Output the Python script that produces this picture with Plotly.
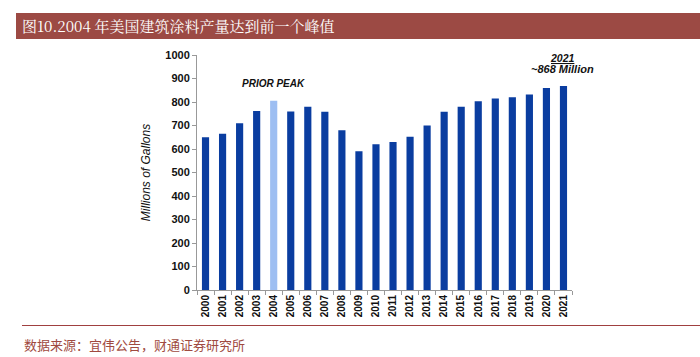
import plotly.graph_objects as go

years = [str(y) for y in range(2000, 2022)]
values = [650, 665, 710, 762, 805, 760, 780, 758, 680, 590, 620, 630, 652, 700,
          758, 780, 803, 815, 820, 832, 860, 868]
highlight_year = "2004"
dark_blue = "#0A3DA0"
light_blue = "#9DBEF2"
colors = [light_blue if y == highlight_year else dark_blue for y in years]

W, H = 700, 357
L, R, T, B = 197, 128, 55, 67
pw, ph = W - L - R, H - T - B

def px(x):
    return (x - L) / pw

def py(y):
    return (H - B - y) / ph

fig = go.Figure(go.Bar(x=years, y=values, marker=dict(color=colors, line=dict(width=0)),
                       width=0.42))

fig.update_layout(
    width=W, height=H, margin=dict(l=L, r=R, t=T, b=B),
    paper_bgcolor="white", plot_bgcolor="white", showlegend=False,
    font=dict(family="Liberation Sans, Arial", color="#111"),
    xaxis=dict(type="category", tickangle=-90,
               tickfont=dict(size=10, family="Liberation Sans, Arial", color="#111", weight="bold"),
               showline=True, linecolor="#999", linewidth=1, ticks="outside", ticklen=4,
               tickcolor="#999", tickson="boundaries", showgrid=False, range=[-0.5, 21.5]),
    yaxis=dict(range=[0, 1000], dtick=100, showline=True, linecolor="#999", linewidth=1,
               ticks="outside", ticklen=4, tickcolor="#999", showgrid=False, zeroline=False,
               tickfont=dict(size=11, color="#111", weight="bold"),
               title=dict(text="<i>Millions of Gallons</i>", font=dict(size=12, color="#111"), standoff=12)),
    shapes=[
        dict(type="rect", xref="paper", yref="paper", x0=px(16), x1=px(700), y0=py(39), y1=py(13),
             fillcolor="#9C4A44", line=dict(width=0), layer="above"),
        dict(type="line", xref="paper", yref="paper", x0=px(22), x1=px(700), y0=py(325.5), y1=py(325.5),
             line=dict(color="#A04040", width=1.2)),
    ],
    annotations=[
        dict(text="图10.2004 年美国建筑涂料产量达到前一个峰值", xref="paper", yref="paper",
             x=px(20), y=py(26), xanchor="left", yanchor="middle", showarrow=False,
             font=dict(size=15, color="white", family="Noto Serif CJK SC, Noto Sans CJK SC")),
        dict(text="数据来源：宜伟公告，财通证券研究所", xref="paper", yref="paper",
             x=px(22), y=py(344), xanchor="left", yanchor="middle", showarrow=False,
             font=dict(size=13, color="#A04A40", family="Noto Sans CJK SC")),
        dict(text="<b><i>PRIOR PEAK</i></b>", xref="paper", yref="paper",
             x=px(273), y=py(84), xanchor="center", yanchor="middle", showarrow=False,
             font=dict(size=10, color="#111")),
        dict(text="<b><i><u>2021</u></i></b>", xref="paper", yref="paper",
             x=px(562), y=py(58), xanchor="center", yanchor="middle", showarrow=False,
             font=dict(size=10.5, color="#111")),
        dict(text="<b><i>~868 Million</i></b>", xref="paper", yref="paper",
             x=px(562), y=py(69), xanchor="center", yanchor="middle", showarrow=False,
             font=dict(size=11, color="#111")),
    ],
)

fig.write_html("out.html", config={"displayModeBar": False},
               post_script="document.body.style.margin='0';document.body.style.overflow='hidden';")
